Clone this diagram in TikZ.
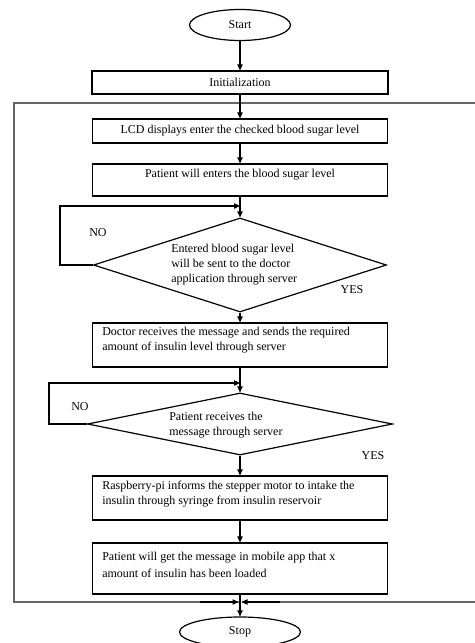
\documentclass[tikz,border=0pt]{standalone}
\usepackage{fontspec}
\setmainfont{Liberation Serif}
\usetikzlibrary{shapes.geometric,arrows.meta}
\begin{document}
\begin{tikzpicture}[x=0.75pt,y=-0.75pt,
  every node/.style={font=\fontsize{9}{11.25}\selectfont},
  ln/.style={line width=0.9pt},
  box/.style={draw,ln,rectangle,inner sep=0pt,minimum width=221.25pt},
  dec/.style={draw,ln,diamond,inner sep=0pt},
  term/.style={draw,ln,ellipse,inner sep=0pt},
  txt/.style={inner sep=0pt,align=left,anchor=west},
  lbl/.style={inner sep=0pt},
  arr/.style={ln,-{Triangle[length=4.5pt,width=4pt]}},
  outer/.style={line width=1.3pt,draw=black!60},
]
\useasboundingbox (0,0) rectangle (475,643);
\clip (0,0) rectangle (475,643);

% outer loop
\coordinate (oc1) at (238.5,602);
\coordinate (oc2) at (241.5,602);
\coordinate (o1) at (14,602);
\coordinate (o2) at (14,103);
\coordinate (o3) at (490,103);
\coordinate (o4) at (490,602);
\draw[outer] (o3) -- (o2) -- (o1) -- (oc1);
\draw[outer] (o3) -- (o4) -- (oc2);
\draw[arr] (200,602) -- (oc1);
\draw[arr] (280,602) -- (oc2);

\node[term,minimum width=75.75pt,minimum height=23.25pt] (start) at (240,25) {Start};
\node[box,minimum width=222pt,minimum height=17.25pt,fill=white] (init) at (240,82.5) {Initialization};
\node[box,minimum height=18pt] (lcd) at (240,131) {LCD displays enter the checked blood sugar level};
\node[box,minimum height=24pt] (pat) at (240,180) {};
\node[lbl] (patt) at (240,175) {Patient will enters the blood sugar level};

\node[dec,minimum width=219.75pt,minimum height=70.5pt] (d1) at (240,265) {};
\node[txt] (d1t) at (171,265) {Entered blood sugar level\\will be sent to the doctor\\application through server};
\node[lbl] (no1) at (98,233) {NO};
\node[lbl] (yes1) at (352,290) {YES};
\coordinate (l1a) at (60,265);
\coordinate (l1b) at (60,206);
\coordinate (l1c) at (240,206);
\draw[arr] (d1.west) -- (l1a) -- (l1b) -- (l1c);

\node[box,minimum height=33pt] (doc) at (240,345) {};
\node[txt] (doct) at (102,340) {Doctor receives the message and sends the required\\amount of insulin level through server};

\node[dec,minimum width=228.75pt,minimum height=46.5pt] (d2) at (240,424) {};
\node[txt] (d2t) at (169,425.5) {Patient receives the\\message through server};
\node[lbl] (no2) at (80,407) {NO};
\node[lbl] (yes2) at (373,456) {YES};
\coordinate (l2a) at (49,424);
\coordinate (l2b) at (49,383);
\coordinate (l2c) at (240,383);
\draw[arr] (d2.west) -- (l2a) -- (l2b) -- (l2c);

\node[box,minimum height=33pt] (rasp) at (240,498) {};
\node[txt] (raspt) at (102,494) {Raspberry-pi informs the stepper motor to intake the\\insulin through syringe from insulin reservoir};

\node[box,minimum height=38.25pt] (pget) at (240,568.5) {};
\node[txt] (pgett) at (102,564.5) {Patient will get the message in mobile app that x\\[1.5pt]amount of insulin has been loaded};

\node[term,minimum width=90.75pt,minimum height=22.5pt] (stop) at (240,632) {Stop};

\draw[arr] (start) -- (init);
\draw[arr] (init) -- (lcd);
\draw[arr] (lcd) -- (pat);
\draw[arr] (pat) -- (d1);
\draw[arr] (d1) -- (doc);
\draw[arr] (doc) -- (d2);
\draw[arr] (d2) -- (rasp);
\draw[arr] (rasp) -- (pget);
\draw[arr] (pget) -- (stop);
\end{tikzpicture}
\end{document}
